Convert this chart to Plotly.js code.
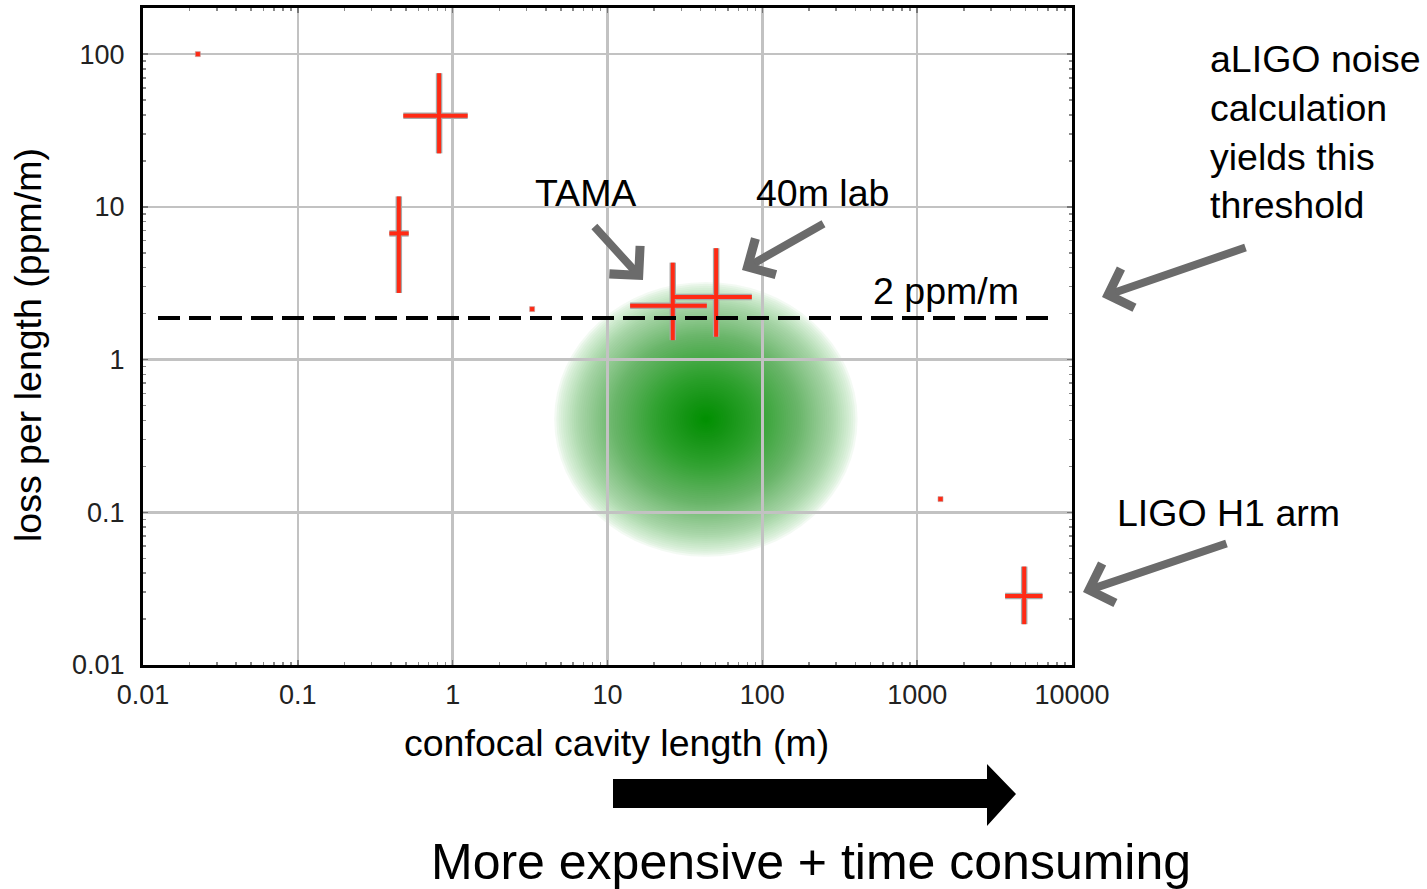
<!DOCTYPE html>
<html>
<head>
<meta charset="utf-8">
<script src="https://cdn.plot.ly/plotly-3.0.1.min.js"></script>
<style>
  html, body { margin: 0; padding: 0; background: #ffffff; }
  #chart { width: 1427px; height: 889px; }
</style>
</head>
<body>
<div id="chart"></div>
<script>
// ---------------- data ----------------
const X_TICKS = [0.01, 0.1, 1, 10, 100, 1000, 10000];
const X_TICK_LABELS = ['0.01', '0.1', '1', '10', '100', '1000', '10000'];
const Y_TICKS = [0.01, 0.1, 1, 10, 100];
const Y_TICK_LABELS = ['0.01', '0.1', '1', '10', '100'];

// measurements with error bars (cavity length in m, loss in ppm/m)
const crossLength = [0.817, 0.449, 26.4, 50.3, 4910];
const crossLengthLow = [0.48, 0.39, 14.0, 26.7, 3700];
const crossLengthHigh = [1.25, 0.52, 43.8, 85.5, 6450];
const crossLoss = [39.5, 6.7, 2.25, 2.57, 0.0283];
const crossLossLow = [22.4, 2.73, 1.34, 1.41, 0.0185];
const crossLossHigh = [75, 11.7, 4.31, 5.36, 0.0441];

// single points without error bars
const pointLength = [0.0226, 3.26, 1415];
const pointLoss = [100, 2.14, 0.122];

// threshold line
const thresholdLoss = 1.87;
const thresholdFrom = 0.0125;
const thresholdTo = 7000;

// green target region (centre and half-extent in decades)
const regionLength = 43.2;
const regionLoss = 0.406;
const regionHalfWidthDecades = 0.98;
const regionHalfHeightDecades = 0.90;

// ---------------- layout helpers ----------------
const W = 1427, H = 889;
const M = { l: 143, r: 355, t: 8, b: 224 };
const PW = W - M.l - M.r, PH = H - M.t - M.b;
const px = v => (v - M.l) / PW;          // pixel -> paper x
const py = v => (M.t + PH - v) / PH;     // pixel -> paper y

const RED = '#ff2a14';
const FONT = 'Liberation Sans, Arial, Helvetica, sans-serif';

const minus = (a, b) => a.map((v, i) => v - b[i]);

function crossTrace(color, thick) {
  return {
    type: 'scatter', mode: 'markers',
    x: crossLength, y: crossLoss,
    marker: { size: 1, color: color },
    error_x: { type: 'data', symmetric: false,
      array: minus(crossLengthHigh, crossLength),
      arrayminus: minus(crossLength, crossLengthLow),
      color: color, thickness: thick, width: 0 },
    error_y: { type: 'data', symmetric: false,
      array: minus(crossLossHigh, crossLoss),
      arrayminus: minus(crossLoss, crossLossLow),
      color: color, thickness: thick, width: 0 },
    hoverinfo: 'skip', showlegend: false
  };
}

const traces = [
  crossTrace('#a8a8a8', 6.5),
  crossTrace(RED, 4),
  { type: 'scatter', mode: 'markers', x: pointLength, y: pointLoss,
    marker: { symbol: 'square', size: 5, color: RED, line: { width: 0.6, color: '#c0a0a0' } },
    hoverinfo: 'skip', showlegend: false }
];

// ---------- shapes ----------
const shapes = [];
// soft green region: stacked translucent ellipses (below grid), radial fade
const N = 70;
const fade = s => 0.98 * Math.pow(Math.max(0, 1 - s), 0.62);
let outerAlpha = 0;
for (let i = N; i >= 1; i--) {
  const f = i / N;
  const A = fade((i - 0.5) / N);
  const a = 1 - (1 - A) / (1 - outerAlpha);
  outerAlpha = A;
  const kx = Math.pow(10, regionHalfWidthDecades * f);
  const ky = Math.pow(10, regionHalfHeightDecades * f);
  shapes.push({
    type: 'circle', layer: 'below', xref: 'x', yref: 'y',
    x0: regionLength / kx, x1: regionLength * kx,
    y0: regionLoss / ky, y1: regionLoss * ky,
    fillcolor: 'rgba(0,145,0,' + a.toFixed(4) + ')', line: { width: 0 }
  });
}
// dashed threshold
shapes.push({
  type: 'line', layer: 'above', xref: 'x', yref: 'y',
  x0: thresholdFrom, x1: thresholdTo, y0: thresholdLoss, y1: thresholdLoss,
  line: { color: '#000000', width: 4, dash: '22px,9px' }
});
// big black arrow at the bottom
const ap = [[613, 779], [987, 779], [987, 764], [1016, 794], [987, 826], [987, 808], [613, 808]];
shapes.push({
  type: 'path', xref: 'paper', yref: 'paper', layer: 'above',
  path: 'M' + ap.map(p => px(p[0]).toFixed(5) + ',' + py(p[1]).toFixed(5)).join(' L') + ' Z',
  fillcolor: '#000000', line: { width: 0 }
});

// ---------- annotations ----------
const ann = [];
function label(text, x, y, size, opts) {
  ann.push(Object.assign({
    text: text, xref: 'paper', yref: 'paper', x: px(x), y: py(y),
    xanchor: 'left', yanchor: 'middle', showarrow: false,
    font: { family: FONT, size: size, color: '#000000' }
  }, opts || {}));
}
label('TAMA', 533, 193, 37.5);
label('40m lab', 754, 193, 37.5);
label('2 ppm/m', 871, 291, 37.5);
label('aLIGO noise<br>calculation<br>yields this<br>threshold', 1208, 132, 37.5, { align: 'left' });
label('LIGO H1 arm', 1115, 513, 37.5);
label('confocal cavity length (m)', 616, 743, 37.5, { xanchor: 'center' });
label('loss per length (ppm/m)', 28, 345, 37.5, { xanchor: 'center', textangle: -90 });
label('More expensive + time consuming', 811, 862, 50, { xanchor: 'center' });

function arrow(hx, hy, tx, ty) {
  ann.push({
    text: '', xref: 'paper', yref: 'paper', x: px(hx), y: py(hy),
    ax: tx - hx, ay: ty - hy, showarrow: true,
    arrowhead: 4, arrowsize: 1.0, arrowwidth: 8, arrowcolor: '#6b6b6b', standoff: 0
  });
}
arrow(643, 280, 593, 225);
arrow(742, 270, 825, 223);
arrow(1102, 297, 1247, 247);
arrow(1083, 592, 1228, 543);

// minor tick positions (2..9 in each decade)
function minorTicks(lo, hi) {
  const out = [];
  for (let e = lo; e < hi; e++) for (let k = 2; k <= 9; k++) out.push(k * Math.pow(10, e));
  return out;
}

const axisCommon = {
  type: 'log', showline: true, linecolor: '#000000', linewidth: 3, mirror: 'ticks',
  ticks: 'inside', ticklen: 5, tickcolor: '#777777', tickwidth: 1.5,
  showgrid: true, gridcolor: '#c2c2c2', gridwidth: 2.5, zeroline: false,
  tickfont: { family: FONT, size: 27, color: '#222222' },
  tickmode: 'array',
  minor: { ticks: 'inside', ticklen: 3, tickcolor: '#8a8a8a', tickwidth: 1.5, showgrid: false }
};

const layout = {
  width: W, height: H,
  margin: M,
  paper_bgcolor: '#ffffff', plot_bgcolor: '#ffffff',
  showlegend: false,
  xaxis: Object.assign({}, axisCommon, {
    range: [-2, 4], tickvals: X_TICKS, ticktext: X_TICK_LABELS, ticklabelstandoff: 4,
    minor: Object.assign({}, axisCommon.minor, { tickmode: 'array', tickvals: minorTicks(-2, 4) })
  }),
  yaxis: Object.assign({}, axisCommon, {
    range: [-2, 2.302], tickvals: Y_TICKS, ticktext: Y_TICK_LABELS, ticklabelstandoff: 10,
    minor: Object.assign({}, axisCommon.minor, { tickmode: 'array', tickvals: minorTicks(-2, 3) })
  }),
  shapes: shapes,
  annotations: ann
};

Plotly.newPlot('chart', traces, layout, { staticPlot: true, displayModeBar: false });
</script>
</body>
</html>
